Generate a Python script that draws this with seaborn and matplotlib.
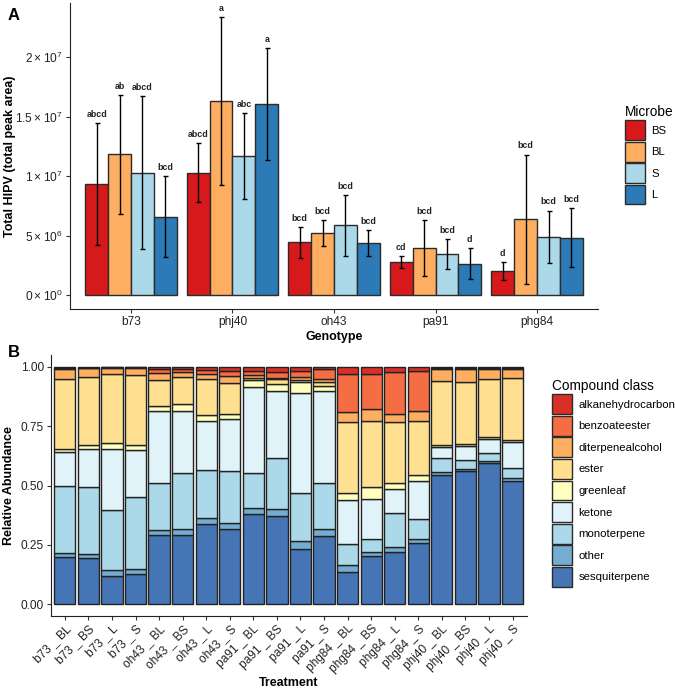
import matplotlib
matplotlib.use("Agg")
import matplotlib.pyplot as plt
from matplotlib.patches import Patch
import seaborn as sns
import pandas as pd
import numpy as np

# ---- Panel A data: total HIPV, mean and error per genotype, one list per microbe
genotypes = ["b73", "phj40", "oh43", "pa91", "phg84"]
microbes = ["BS", "BL", "S", "L"]
microbe_colors = ["#d7191c", "#fdae61", "#abd9e9", "#2c7bb6"]

mean_BS = [0.934e7, 1.03e7, 0.443e7, 0.278e7, 0.202e7]
mean_BL = [1.183e7, 1.634e7, 0.524e7, 0.393e7, 0.637e7]
mean_S = [1.03e7, 1.17e7, 0.586e7, 0.342e7, 0.49e7]
mean_L = [0.66e7, 1.61e7, 0.44e7, 0.263e7, 0.482e7]

err_BS = [0.51e7, 0.25e7, 0.13e7, 0.05e7, 0.075e7]
err_BL = [0.50e7, 0.705e7, 0.11e7, 0.235e7, 0.545e7]
err_S = [0.64e7, 0.36e7, 0.257e7, 0.126e7, 0.22e7]
err_L = [0.34e7, 0.47e7, 0.11e7, 0.13e7, 0.25e7]

letters_BS = ["abcd", "abcd", "bcd", "cd", "d"]
letters_BL = ["ab", "a", "bcd", "bcd", "bcd"]
letters_S = ["abcd", "abc", "bcd", "bcd", "bcd"]
letters_L = ["bcd", "a", "bcd", "d", "bcd"]

ytick_vals = [0, 5e6, 1e7, 1.5e7, 2e7]
ytick_labels = [r"$\mathregular{0\times10^{0}}$", r"$\mathregular{5\times10^{6}}$",
                r"$\mathregular{1\times10^{7}}$", r"$\mathregular{1.5\times10^{7}}$",
                r"$\mathregular{2\times10^{7}}$"]

# ---- Panel B data: relative abundance per treatment, one list per compound class
treatments = ["b73 _ BL", "b73 _ BS", "b73 _ L", "b73 _ S",
              "oh43 _ BL", "oh43 _ BS", "oh43 _ L", "oh43 _ S",
              "pa91 _ BL", "pa91 _ BS", "pa91 _ L", "pa91 _ S",
              "phg84 _ BL", "phg84 _ BS", "phg84 _ L", "phg84 _ S",
              "phj40 _ BL", "phj40 _ BS", "phj40 _ L", "phj40 _ S"]
classes = ["alkanehydrocarbon", "benzoateester", "diterpenealcohol", "ester",
           "greenleaf", "ketone", "monoterpene", "other", "sesquiterpene"]
class_colors = ["#d73027", "#f46d43", "#fdae61", "#fee090", "#ffffbf",
                "#e0f3f8", "#abd9e9", "#74add1", "#4575b4"]

alkanehydrocarbon = [.004, .003, .002, .002, .011, .008, .014, .017, .017, .021,
                     .018, .010, .031, .028, .021, .017, .005, .005, .004, .005]
benzoateester = [.004, .003, .003, .003, .014, .014, .017, .022, .016, .028,
                 .024, .041, .161, .150, .179, .168, .005, .004, .003, .005]
diterpenealcohol = [.042, .037, .024, .030, .031, .022, .022, .031, .012, .004,
                    .012, .012, .039, .050, .034, .042, .050, .056, .045, .035]
ester = [.296, .285, .291, .293, .110, .114, .150, .129, .012, .020,
         .010, .016, .302, .277, .254, .229, .271, .262, .245, .264]
greenleaf = [.012, .018, .026, .024, .018, .026, .026, .021, .028, .028,
             .045, .022, .028, .053, .025, .025, .008, .005, .007, .009]
ketone = [.143, .160, .257, .198, .307, .265, .204, .220, .364, .285,
          .421, .390, .184, .167, .104, .161, .047, .062, .058, .110]
monoterpene = [.282, .282, .255, .300, .196, .234, .205, .219, .147, .213,
               .206, .193, .092, .056, .143, .085, .057, .038, .035, .040]
other = [.019, .018, .024, .024, .023, .024, .024, .024, .025, .028,
         .031, .027, .028, .017, .021, .016, .013, .008, .010, .013]
sesquiterpene = [.198, .194, .118, .126, .290, .293, .338, .317, .379, .373,
                 .233, .289, .135, .202, .219, .257, .544, .560, .593, .519]

plt.rcParams['font.family'] = ['Liberation Sans', 'DejaVu Sans']
plt.rcParams['mathtext.fontset'] = 'custom'
plt.rcParams['mathtext.rm'] = 'Liberation Sans'

fig = plt.figure(figsize=(6.75, 6.94), dpi=100)
W, H = 675, 694
axA = fig.add_axes([70 / W, 1 - 309 / H, 528 / W, 306 / H])
axB = fig.add_axes([50.7 / W, 1 - 616 / H, 476 / W, 261 / H])

# ---- Panel A
dfA = pd.DataFrame({
    "genotype": genotypes * 4,
    "microbe": np.repeat(microbes, len(genotypes)),
    "mean": mean_BS + mean_BL + mean_S + mean_L,
    "err": err_BS + err_BL + err_S + err_L,
    "letter": letters_BS + letters_BL + letters_S + letters_L,
})
sns.barplot(data=dfA, x="genotype", y="mean", hue="microbe", order=genotypes,
            hue_order=microbes, palette=microbe_colors, width=0.9, gap=0,
            errorbar=None, edgecolor="#2b2b2b", linewidth=1, saturation=1,
            legend=False, ax=axA)

for cont, m in zip(axA.containers, microbes):
    sub = dfA[dfA.microbe == m].set_index("genotype").loc[genotypes]
    xs = [b.get_x() + b.get_width() / 2 for b in cont]
    axA.errorbar(xs, sub["mean"], yerr=sub["err"], fmt="none", ecolor="black",
                 elinewidth=1, capsize=1.8, capthick=1)
    for x, mu, e, lab in zip(xs, sub["mean"], sub["err"], sub["letter"]):
        axA.annotate(lab, (x, mu + e), xytext=(0, 3), textcoords="offset points",
                     ha="center", va="bottom", fontsize=6.4, fontweight="bold",
                     color="#222222")

top = (dfA["mean"] + dfA["err"]).max()
axA.set_ylim(-0.05 * top, 1.05 * top)
axA.set_xlim(-0.6, len(genotypes) - 0.4)
axA.set_yticks(ytick_vals)
axA.set_yticklabels(ytick_labels)
axA.set_xlabel("Genotype", fontsize=9, fontweight="bold", labelpad=2)
axA.set_ylabel("Total HIPV (total peak area)", fontsize=9, fontweight="bold")
axA.yaxis.set_label_coords(-0.102, 0.5)

hA = [Patch(facecolor=c, edgecolor="#2b2b2b", linewidth=1) for c in microbe_colors]
fig.legend(hA, microbes, loc="upper left", bbox_to_anchor=(619 / W, 1 - 99 / H),
           frameon=False, title="Microbe", title_fontsize=9.8, fontsize=8.2,
           handlelength=1.75, handleheight=2.32, labelspacing=0.13,
           handletextpad=0.6, borderpad=0, alignment="left")

# ---- Panel B
wide = pd.DataFrame({
    "alkanehydrocarbon": alkanehydrocarbon, "benzoateester": benzoateester,
    "diterpenealcohol": diterpenealcohol, "ester": ester, "greenleaf": greenleaf,
    "ketone": ketone, "monoterpene": monoterpene, "other": other,
    "sesquiterpene": sesquiterpene,
}, index=treatments)
dfB = wide.reset_index(names="treatment").melt(id_vars="treatment",
                                                var_name="compound",
                                                value_name="abundance")
dfB["treatment"] = pd.Categorical(dfB["treatment"], categories=treatments, ordered=True)
sns.histplot(data=dfB, x="treatment", hue="compound", weights="abundance",
             multiple="stack", discrete=True, shrink=0.9, hue_order=classes,
             palette=class_colors, edgecolor="#222222", linewidth=1, alpha=1,
             legend=False, ax=axB)

axB.set_ylim(-0.05, 1.05)
axB.set_xlim(-0.6, len(treatments) - 0.4)
axB.set_yticks([0, 0.25, 0.5, 0.75, 1.0])
axB.set_yticklabels(["0.00", "0.25", "0.50", "0.75", "1.00"])
axB.set_xticks(range(len(treatments)))
axB.set_xticklabels(treatments, rotation=45, ha="right", va="top",
                    rotation_mode="anchor")
axB.set_xlabel("Treatment", fontsize=9, fontweight="bold", labelpad=1)
axB.set_ylabel("Relative Abundance", fontsize=9, fontweight="bold")
axB.yaxis.set_label_coords(-0.075, 0.5)

hB = [Patch(facecolor=c, edgecolor="#2b2b2b", linewidth=1) for c in class_colors]
fig.legend(hB, classes, loc="upper left", bbox_to_anchor=(546 / W, 1 - 373 / H),
           frameon=False, title="Compound class", title_fontsize=9.8, fontsize=8.2,
           handlelength=1.75, handleheight=2.32, labelspacing=0.14,
           handletextpad=0.6, borderpad=0, alignment="left")

for ax in (axA, axB):
    sns.despine(ax=ax)
    ax.spines["left"].set_color("#222222")
    ax.spines["bottom"].set_color("#222222")
    ax.tick_params(axis="both", labelsize=8.6, length=3, color="#333333",
                   labelcolor="#222222", pad=2)

fig.text(8 / W, 1 - 20 / H, "A", fontsize=12, fontweight="bold")
fig.text(8 / W, 1 - 357 / H, "B", fontsize=12, fontweight="bold")

fig.savefig("out.png", dpi=100)
